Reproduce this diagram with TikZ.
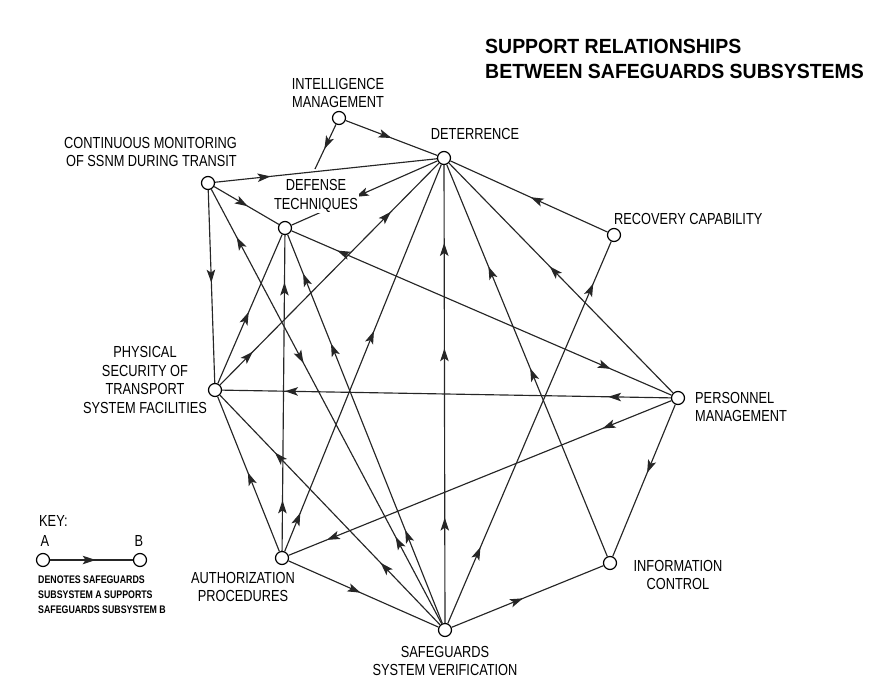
\documentclass[tikz,border=0pt]{standalone}
\usepackage{fontspec}
\setmainfont{Liberation Sans}[FakeStretch=0.8]
\newfontfamily\titlefont{Liberation Sans}[FakeStretch=0.95]
\usetikzlibrary{arrows.meta, decorations.markings}

\begin{document}
\begin{tikzpicture}[x=1pt, y=-1pt,
        sub/.style={circle, draw, fill=white, line width=1.2pt, minimum size=13pt, inner sep=0pt},
        lbl/.style={align=center, inner sep=0pt, font=\fontsize{16}{18.5}\selectfont},
        link/.style={line width=1.15pt, black!85},
        arr/.style={postaction={decorate, decoration={markings, mark=at position #1 with {\arrow{Stealth[length=13pt, width=8.5pt, inset=3pt]}}}}},
        rarr/.style={postaction={decorate, decoration={markings, mark=at position #1 with {\arrowreversed{Stealth[length=13pt, width=8.5pt, inset=3pt]}}}}}]
        \useasboundingbox (0, 0) rectangle (881, 683);
        % subsystems
        \node [sub] (im) at (339, 118) {};
        \node [sub] (dt) at (444, 158) {};
        \node [sub] (cm) at (208, 183) {};
        \node [sub] (df) at (285, 228) {};
        \node [sub] (rc) at (614, 235) {};
        \node [sub] (ps) at (215, 390) {};
        \node [sub] (pm) at (678, 398) {};
        \node [sub] (ap) at (282, 558) {};
        \node [sub] (ic) at (610, 563) {};
        \node [sub] (sv) at (445, 630) {};
        \coordinate (imend) at (315, 169);
        % support lines
        \draw [link, arr=0.5] (im) -- (dt);
        \draw [link, arr=0.55] (im) -- (imend);
        \draw [link, arr=0.25] (cm) -- (dt);
        \draw [link, arr=0.52] (cm) -- (df);
        \draw [link, arr=0.48] (cm) -- (ps);
        \draw [link, arr=0.56] (dt) -- (df);
        \draw [link, arr=0.88, rarr=0.16] (pm) -- (df);
        \draw [link, arr=0.49] (rc) -- (dt);
        \draw [link, arr=0.55] (pm) -- (dt);
        \draw [link, arr=0.48, arr=0.74] (ic) -- (dt);
        \draw [link, arr=0.23, arr=0.6, arr=0.83] (sv) -- (dt);
        \draw [link, arr=0.15, arr=0.78] (ps) -- (dt);
        \draw [link, arr=0.1, arr=0.57] (ap) -- (dt);
        \draw [link, arr=0.48] (ps) -- (df);
        \draw [link, arr=0.16, arr=0.85] (ap) -- (df);
        \draw [link, arr=0.24, arr=0.72, arr=0.9] (sv) -- (df);
        \draw [link, arr=0.2, rarr=0.6, arr=0.89] (sv) -- (cm);
        \draw [link, arr=0.14, arr=0.86] (pm) -- (ps);
        \draw [link, arr=0.18, arr=0.9] (pm) -- (ap);
        \draw [link, arr=0.45] (pm) -- (ic);
        \draw [link, arr=0.47] (sv) -- (ic);
        \draw [link, arr=0.2, arr=0.89] (sv) -- (rc);
        \draw [link, arr=0.51] (ap) -- (ps);
        \draw [link, arr=0.27, arr=0.75] (sv) -- (ps);
        \draw [link, arr=0.48] (ap) -- (sv);
        % labels
        \node [lbl] (iml) at (338, 93) {INTELLIGENCE\\MANAGEMENT};
        \node [lbl] (dtl) at (475, 134) {DETERRENCE};
        \node [lbl, align=right, anchor=east] (cml) at (237, 152) {CONTINUOUS MONITORING\\OF SSNM DURING TRANSIT};
        \node [lbl, fill=white, inner sep=1pt] (dfl) at (316, 196) {DEFENSE\\TECHNIQUES};
        \node [lbl, anchor=west] (rcl) at (614, 219) {RECOVERY CAPABILITY};
        \node [lbl] (psl) at (145, 380) {PHYSICAL\\SECURITY OF\\TRANSPORT\\SYSTEM FACILITIES};
        \node [lbl, align=left, anchor=west] (pml) at (695, 407) {PERSONNEL\\MANAGEMENT};
        \node [lbl] (apl) at (243, 587) {AUTHORIZATION\\PROCEDURES};
        \node [lbl] (icl) at (678, 575) {INFORMATION\\CONTROL};
        \node [lbl] (svl) at (445, 661) {SAFEGUARDS\\SYSTEM VERIFICATION};
        \node [anchor=north west, align=left, inner sep=0pt, font=\titlefont\bfseries\fontsize{20.5}{25}\selectfont] (title) at (485, 39) {SUPPORT RELATIONSHIPS\\BETWEEN SAFEGUARDS SUBSYSTEMS};
        % key
        \node [lbl, anchor=west] (key) at (39, 521) {KEY:};
        \node [lbl] (keya) at (45, 541) {A};
        \node [lbl] (keyb) at (139, 541) {B};
        \node [sub] (ka) at (43, 560) {};
        \node [sub] (kb) at (140, 560) {};
        \draw [link, arr=0.55] (ka) -- (kb);
        \node [anchor=north west, align=left, inner sep=0pt, font=\bfseries\fontsize{11}{15}\selectfont] (keytxt) at (38, 576) {DENOTES SAFEGUARDS\\SUBSYSTEM A SUPPORTS\\SAFEGUARDS SUBSYSTEM B};
    \end{tikzpicture}
\end{document}
